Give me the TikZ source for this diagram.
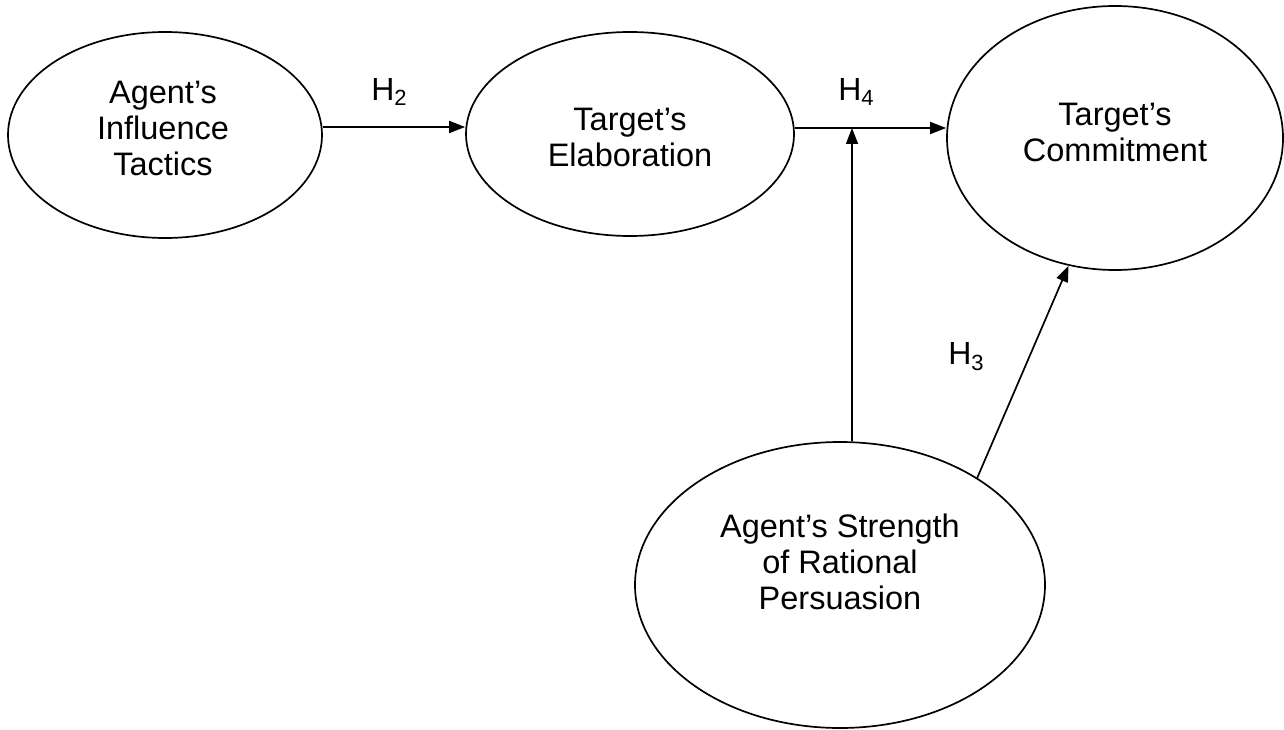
\documentclass[tikz,border=0pt]{standalone}
\usepackage{fontspec}
\setmainfont{Liberation Sans}
\usetikzlibrary{arrows.meta,shapes.geometric,calc}
\newcommand{\hsub}[1]{H\raisebox{-0.35ex}{\fontsize{22}{22}\selectfont #1}}
\begin{document}
\begin{tikzpicture}[x=1pt,y=-1pt,
  oval/.style={draw,ellipse,line width=1.7pt,inner sep=0pt},
  txt/.style={align=center,font=\fontsize{32.5}{36}\selectfont},
  hlab/.style={font=\fontsize{32}{36}\selectfont},
  arr/.style={line width=1.7pt,-{Triangle[length=16pt,width=12pt]}}]
\useasboundingbox (0,0) rectangle (1284,730);
% ellipses
\node[oval,minimum width=314pt,minimum height=206pt] (a) at (165,135) {};
\node[oval,minimum width=328pt,minimum height=204pt] (b) at (630,134) {};
\node[oval,minimum width=336pt,minimum height=264pt] (c) at (1115,138) {};
\node[oval,minimum width=410pt,minimum height=286pt] (s) at (840,585) {};
% texts
\node[txt] (ta) at ($(a)+(-2,-7)$) {Agent’s\\Influence\\Tactics};
\node[txt] (tb) at ($(b)+(0,3)$) {Target’s\\Elaboration};
\node[txt] (tc) at ($(c)+(0,-6)$) {Target’s\\Commitment};
\node[txt] (ts) at ($(s)+(0,-23)$) {Agent’s Strength\\of Rational\\Persuasion};
% helper coordinates
\coordinate (r1) at (0,127);
\coordinate (r2) at (0,128);
\coordinate (v) at (852,128);
% connectors
\draw[arr] (a.east |- r1) -- (b.west |- r1);
\draw[arr] (b.east |- r2) -- (c.west |- r2);
\draw[arr] (s.north -| v) -- (v);
\draw[arr] (s.38.6) -- (c.250);
% labels
\node[hlab] (h2) at (389,92) {\hsub{2}};
\node[hlab] (h4) at (856,92) {\hsub{4}};
\node[hlab] (h3) at (966,357) {\hsub{3}};
\end{tikzpicture}
\end{document}
